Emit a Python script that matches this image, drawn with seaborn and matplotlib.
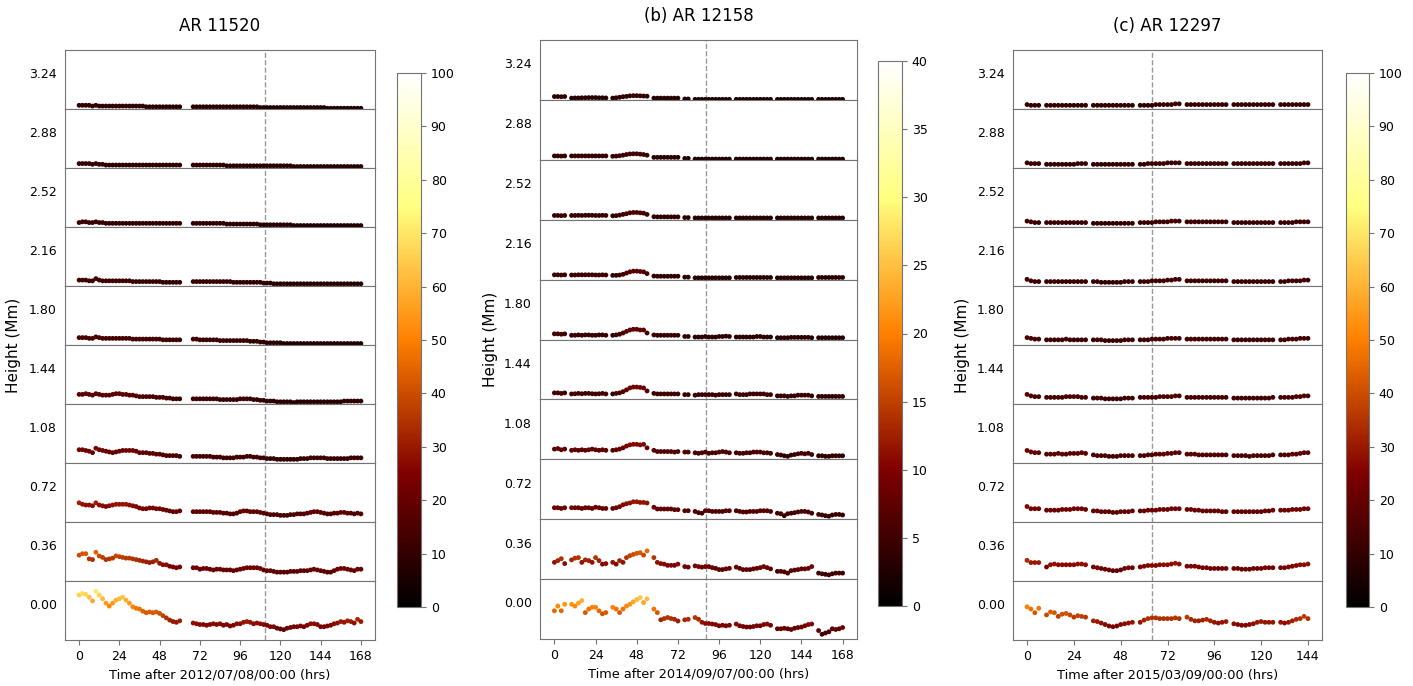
import numpy as np
import pandas as pd
import matplotlib
matplotlib.use("Agg")
import matplotlib.pyplot as plt
from matplotlib.cm import ScalarMappable
from matplotlib.colors import Normalize
import seaborn as sns

# Heights of the ten layers, bottom to top (Mm)
HEIGHTS = ["0.00", "0.36", "0.72", "1.08", "1.44", "1.80", "2.16", "2.52", "2.88", "3.24"]

# Observing windows in hours, sampled every 2 h
CADENCE = 2
WINDOWS_A = [(0, 60), (68, 168)]
WINDOWS_B = [(0, 6), (10, 30), (34, 54), (58, 72), (76, 78), (82, 102), (106, 126), (130, 150), (154, 168)]
WINDOWS_C = [(0, 6), (10, 30), (34, 54), (58, 78), (82, 102), (106, 126), (130, 144)]

# ---------------- AR 11520 ----------------
A_000 = [66, 68, 67, 63, 58, 71, 66, 61, 55, 51, 55, 59, 61, 63, 59, 55, 50, 48, 47, 44,
         42, 43, 42, 43, 41, 38, 35, 32, 30, 29, 31,
         28, 27, 26, 26, 25, 26, 27, 26, 27, 25, 26, 24, 25, 27, 27, 29, 30, 29, 27, 28,
         27, 26, 25, 23, 23, 21, 20, 19, 21, 22, 23, 23, 24, 23, 25, 27, 27, 26, 23, 23,
         24, 25, 27, 28, 30, 29, 31, 30, 28, 33, 30]
A_036 = [40, 42, 42, 35, 34, 44, 39, 37, 34, 35, 36, 39, 38, 37, 36, 36, 35, 34, 33, 32,
         31, 30, 31, 33, 29, 27, 27, 25, 24, 23, 24,
         23, 23, 21, 22, 22, 21, 20, 21, 21, 20, 20, 20, 19, 20, 21, 22, 23, 23, 23, 23,
         22, 20, 19, 19, 18, 17, 17, 17, 17, 18, 18, 18, 19, 19, 19, 20, 21, 20, 19, 18,
         17, 17, 19, 21, 22, 22, 21, 20, 19, 21, 21]
A_072 = [31, 29, 28, 28, 27, 31, 28, 27, 26, 27, 28, 29, 29, 29, 29, 28, 27, 26, 24, 23,
         23, 24, 24, 23, 23, 22, 21, 20, 19, 19, 20,
         19, 19, 19, 19, 19, 19, 18, 18, 18, 17, 17, 16, 16, 17, 19, 20, 20, 19, 19, 19,
         18, 17, 16, 15, 15, 15, 14, 14, 14, 15, 15, 16, 16, 16, 17, 18, 19, 19, 18, 17,
         16, 16, 17, 17, 18, 18, 17, 17, 16, 17, 16]
A_108 = [23, 23, 22, 21, 19, 25, 23, 22, 21, 20, 19, 20, 21, 22, 22, 22, 22, 21, 19, 19,
         19, 18, 18, 17, 17, 16, 15, 15, 15, 15, 14,
         14, 14, 14, 14, 14, 14, 13, 13, 13, 12, 12, 12, 12, 13, 13, 13, 14, 14, 13, 13,
         12, 12, 11, 11, 11, 10, 10, 10, 10, 10, 10, 10, 11, 11, 11, 12, 12, 12, 12, 12,
         11, 11, 11, 11, 11, 11, 11, 12, 12, 12, 12]
A_144 = [18, 18, 19, 18, 17, 19, 18, 17, 17, 17, 18, 19, 19, 18, 18, 17, 17, 16, 15, 15,
         15, 15, 15, 14, 14, 14, 13, 13, 12, 12, 12,
         12, 12, 12, 12, 12, 12, 12, 12, 11, 11, 11, 11, 11, 11, 12, 12, 12, 12, 11, 11,
         10, 10, 9, 9, 9, 8, 8, 8, 8, 8, 7, 8, 8, 8, 8, 8, 8, 8, 8, 8,
         8, 8, 8, 8, 8, 9, 9, 9, 9, 9, 9]
A_180 = [15, 15, 15, 14, 14, 16, 15, 14, 14, 14, 14, 14, 14, 14, 14, 14, 13, 13, 13, 13,
         13, 13, 13, 13, 13, 12, 12, 12, 12, 12, 12,
         13, 13, 12, 12, 12, 12, 12, 12, 11, 11, 11, 11, 11, 11, 11, 11, 11, 10, 10, 10,
         9, 9, 8, 8, 8, 8, 8, 7, 7, 7, 7, 7, 7, 7, 7, 7, 7, 7, 7, 7,
         7, 7, 7, 7, 7, 7, 7, 7, 7, 7, 7]
A_216 = [13, 13, 13, 12, 12, 15, 13, 12, 12, 12, 12, 12, 12, 12, 12, 12, 11, 11, 11, 11,
         11, 11, 11, 11, 11, 10, 10, 10, 10, 10, 10,
         11, 11, 11, 11, 11, 11, 11, 11, 11, 11, 11, 11, 10, 10, 10, 10, 10, 10, 10, 10,
         10, 9, 9, 9, 8, 8, 8, 8, 8, 8, 8, 8, 8, 8, 8, 8, 8, 8, 8, 8,
         8, 8, 8, 8, 8, 8, 8, 8, 8, 8, 8]
A_252 = [11, 12, 12, 11, 11, 12, 11, 11, 10, 10, 10, 10, 10, 10, 10, 10, 10, 10, 10, 10,
         10, 10, 10, 10, 10, 10, 10, 10, 10, 10, 10,
         10, 10, 10, 10, 10, 10, 10, 10, 10, 10, 9, 9, 9, 9, 9, 9, 9, 9, 9, 9,
         8, 8, 8, 8, 8, 8, 8, 8, 8, 8, 7, 7, 7, 7, 7, 7, 7, 7, 7, 7,
         7, 7, 7, 7, 7, 7, 7, 7, 7, 7, 7]
A_288 = [11, 11, 11, 11, 10, 11, 10, 10, 9, 9, 9, 9, 9, 9, 9, 9, 9, 9, 9, 9,
         9, 9, 9, 9, 9, 9, 9, 9, 9, 9, 9,
         9, 9, 9, 9, 9, 9, 9, 9, 9, 9, 8, 8, 8, 8, 8, 8, 8, 8, 8, 8,
         8, 8, 8, 8, 8, 8, 8, 8, 8, 8, 7, 7, 7, 7, 7, 7, 7, 7, 7, 7,
         7, 7, 7, 7, 7, 7, 7, 7, 7, 7, 7]
A_324 = [10, 10, 10, 10, 9, 10, 9, 9, 9, 9, 9, 9, 9, 9, 9, 9, 9, 9, 9, 9,
         8, 8, 8, 8, 8, 8, 8, 8, 8, 8, 8,
         8, 8, 8, 8, 8, 8, 8, 8, 8, 8, 8, 8, 8, 8, 8, 8, 8, 8, 8, 8,
         7, 7, 7, 7, 7, 7, 7, 7, 7, 7, 7, 7, 7, 7, 7, 7, 7, 7, 7, 7,
         6, 6, 6, 6, 6, 6, 6, 6, 6, 6, 6]

# ---------------- AR 12158 ----------------
B_000 = [18.0, 20.7, 18.0, 21.7,
         21.7, 20.7, 22.4, 23.8, 17.0, 19.0, 20.0, 20.0, 18.0, 16.3, 17.0,
         20.0, 19.0, 17.0, 19.0, 20.7, 21.7, 23.1, 24.4, 25.5, 22.7, 24.8,
         19.0, 17.0, 12.9, 13.6, 14.2, 13.6, 13.2, 12.2,
         12.9, 13.2,
         14.2, 13.2, 11.5, 10.8, 10.8, 10.5, 10.2, 9.5, 9.8, 9.5, 9.8,
         10.5, 9.5, 9.1, 8.8, 8.8, 9.1, 9.5, 9.5, 10.2, 10.5, 9.8,
         7.8, 7.8, 8.1, 7.8, 7.4, 8.1, 8.5, 8.8, 9.5, 10.2, 10.5,
         6.8, 4.7, 5.4, 6.1, 7.8, 7.4, 7.8, 8.5]
B_036 = [11.5, 12.5, 13.6, 10.8,
         12.9, 13.9, 14.2, 11.5, 12.9, 12.5, 11.5, 14.2, 12.5, 10.5, 10.8,
         11.5, 10.5, 12.5, 11.5, 14.2, 15.3, 16.0, 16.6, 17.0, 15.6, 18.0,
         14.2, 11.5, 10.8, 10.5, 9.8, 9.8, 9.8, 10.5,
         9.1, 8.8,
         9.5, 9.1, 8.8, 9.1, 9.1, 8.5, 8.1, 7.4, 7.4, 7.8, 8.1,
         8.8, 8.1, 7.4, 7.4, 7.4, 7.8, 8.1, 8.5, 9.1, 8.5, 7.8,
         6.4, 6.4, 6.1, 5.4, 6.8, 7.1, 7.4, 7.8, 7.8, 8.1, 9.1,
         5.4, 5.0, 4.7, 4.4, 5.0, 5.4, 5.4, 5.4]
B_072 = [8.5, 8.5, 8.1, 8.5,
         8.5, 8.5, 8.5, 8.1, 8.5, 8.5, 8.1, 8.8, 8.5, 8.1, 8.1,
         8.1, 8.5, 9.1, 10.2, 10.8, 11.2, 11.9, 11.9, 11.5, 11.5, 11.2,
         8.8, 7.8, 7.8, 7.8, 7.8, 7.8, 7.4, 7.4,
         6.8, 6.8,
         6.4, 5.7, 5.4, 6.8, 6.8, 6.4, 6.4, 6.4, 6.4, 6.8, 6.8,
         6.8, 6.4, 6.1, 6.1, 6.4, 6.4, 6.4, 6.8, 6.8, 6.8, 6.4,
         5.4, 5.1, 4.0, 5.1, 5.4, 5.7, 6.1, 6.4, 6.4, 6.1, 5.4,
         4.7, 4.4, 4.0, 3.7, 4.4, 4.7, 4.7, 4.4]
B_108 = [7.8, 8.1, 7.4, 7.8,
         7.1, 7.4, 7.1, 7.4, 7.1, 7.4, 7.8, 7.4, 7.1, 7.4, 7.1,
         7.1, 7.4, 7.8, 8.5, 9.5, 10.2, 10.5, 10.5, 10.2, 10.5, 8.5,
         7.1, 6.4, 6.4, 6.4, 6.4, 6.4, 6.1, 6.4,
         6.1, 6.1,
         5.7, 5.4, 5.7, 6.1, 5.4, 5.7, 5.7, 6.1, 6.4, 6.1, 5.7,
         5.7, 5.4, 5.4, 5.7, 5.7, 6.1, 6.1, 6.1, 5.7, 5.7, 5.4,
         4.7, 4.4, 4.0, 3.7, 4.4, 4.7, 5.1, 5.4, 5.1, 5.4, 4.7,
         4.0, 4.0, 3.7, 3.7, 4.0, 4.0, 4.0, 4.0]
B_144 = [5.7, 5.7, 5.4, 5.7,
         5.1, 5.2, 5.4, 5.2, 5.4, 5.4, 5.2, 5.1, 5.2, 5.4, 5.1,
         5.1, 5.4, 5.7, 6.4, 7.4, 8.5, 9.0, 9.0, 8.8, 8.5, 6.8,
         5.4, 5.1, 5.1, 5.1, 5.1, 5.1, 5.1, 5.1,
         4.7, 4.7,
         4.4, 4.7, 4.7, 4.7, 4.7, 4.7, 4.4, 4.7, 4.7, 4.7, 4.7,
         5.1, 4.7, 4.7, 4.7, 5.1, 5.1, 5.1, 5.1, 5.1, 4.7, 4.7,
         4.0, 4.0, 4.0, 3.7, 4.0, 4.0, 4.4, 4.4, 4.4, 4.4, 4.0,
         3.7, 3.7, 3.7, 3.7, 3.7, 3.7, 3.7, 3.7]
B_180 = [5.2, 5.2, 5.0, 5.2,
         4.4, 4.4, 4.6, 4.4, 4.6, 4.6, 4.4, 4.4, 4.6, 4.6, 4.4,
         4.4, 4.6, 5.0, 5.7, 6.6, 7.4, 7.8, 7.8, 7.4, 7.4, 5.7,
         4.6, 4.4, 4.4, 4.4, 4.4, 4.4, 4.4, 4.4,
         3.7, 3.7,
         3.4, 3.4, 3.4, 3.7, 3.4, 3.4, 3.4, 3.7, 3.7, 3.9, 3.7,
         3.4, 3.4, 3.4, 3.4, 3.4, 3.4, 3.7, 3.7, 3.4, 3.4, 3.4,
         3.0, 3.0, 3.0, 3.0, 3.2, 3.2, 3.2, 3.2, 3.2, 3.2, 3.0,
         3.0, 3.0, 3.0, 3.0, 3.0, 3.0, 3.0, 3.0]
B_216 = [4.7, 4.7, 4.6, 4.7,
         4.6, 4.6, 4.7, 4.7, 4.7, 4.7, 4.7, 4.6, 4.6, 4.7, 4.6,
         4.4, 4.4, 4.6, 5.0, 5.7, 6.4, 6.8, 6.8, 6.6, 6.4, 5.4,
         4.0, 3.9, 3.9, 3.9, 3.9, 3.9, 3.9, 3.9,
         3.4, 3.4,
         3.0, 3.0, 3.0, 3.0, 3.0, 3.0, 3.0, 3.0, 3.0, 3.0, 3.0,
         3.2, 3.2, 3.2, 3.2, 3.2, 3.2, 3.2, 3.2, 3.2, 3.2, 3.2,
         3.0, 3.0, 3.0, 3.0, 3.0, 3.0, 3.0, 3.0, 3.0, 3.0, 3.0,
         3.2, 3.2, 3.2, 3.2, 3.2, 3.2, 3.2, 3.2]
B_252 = [4.4, 4.4, 4.3, 4.4,
         4.4, 4.4, 4.5, 4.4, 4.5, 4.5, 4.5, 4.4, 4.4, 4.5, 4.4,
         4.2, 4.3, 4.6, 5.0, 5.4, 5.9, 6.1, 6.1, 5.9, 5.7, 5.0,
         3.7, 3.6, 3.6, 3.6, 3.6, 3.6, 3.6, 3.6,
         3.2, 3.2,
         3.0, 3.0, 3.0, 3.0, 3.0, 3.0, 3.0, 3.0, 3.0, 3.0, 3.0,
         3.0, 3.0, 3.0, 3.0, 3.0, 3.0, 3.0, 3.0, 3.0, 3.0, 3.0,
         3.0, 3.0, 3.0, 3.0, 3.0, 3.0, 3.0, 3.0, 3.0, 3.0, 3.0,
         3.0, 3.0, 3.0, 3.0, 3.0, 3.0, 3.0, 3.0]
B_288 = [4.2, 4.2, 4.1, 4.2,
         4.2, 4.2, 4.2, 4.2, 4.2, 4.2, 4.2, 4.2, 4.2, 4.2, 4.2,
         4.0, 4.1, 4.3, 4.6, 5.0, 5.3, 5.4, 5.4, 5.2, 5.0, 4.6,
         3.4, 3.4, 3.4, 3.4, 3.4, 3.4, 3.4, 3.4,
         2.8, 2.8,
         2.4, 2.4, 2.4, 2.4, 2.4, 2.4, 2.4, 2.4, 2.4, 2.4, 2.4,
         2.4, 2.4, 2.4, 2.4, 2.4, 2.4, 2.4, 2.4, 2.4, 2.4, 2.4,
         2.4, 2.4, 2.4, 2.4, 2.4, 2.4, 2.4, 2.4, 2.4, 2.4, 2.4,
         2.4, 2.4, 2.4, 2.4, 2.4, 2.4, 2.4, 2.4]
B_324 = [3.9, 3.9, 3.8, 3.9,
         3.0, 3.1, 3.1, 3.2, 3.2, 3.3, 3.3, 3.3, 3.2, 3.2, 3.1,
         3.0, 3.2, 3.5, 3.8, 4.0, 4.3, 4.4, 4.4, 4.3, 4.2, 4.1,
         3.0, 3.0, 3.0, 3.0, 3.0, 3.0, 3.0, 3.0,
         2.5, 2.5,
         2.3, 2.3, 2.3, 2.3, 2.3, 2.3, 2.3, 2.3, 2.3, 2.3, 2.3,
         2.3, 2.3, 2.3, 2.3, 2.3, 2.3, 2.3, 2.3, 2.3, 2.3, 2.3,
         2.3, 2.3, 2.3, 2.3, 2.3, 2.3, 2.3, 2.3, 2.3, 2.3, 2.3,
         2.3, 2.3, 2.3, 2.3, 2.3, 2.3, 2.3, 2.3]

# ---------------- AR 12297 ----------------
C_000 = [50, 47, 42, 48,
         39, 43, 42, 37, 40, 41, 39, 36, 38, 37, 36,
         31, 30, 28, 26, 24, 23, 24, 26, 27, 28, 29,
         29, 32, 34, 35, 35, 34, 34, 34, 34, 35, 34,
         36, 33, 31, 31, 32, 33, 31, 29, 28, 29, 30,
         27, 26, 25, 25, 26, 27, 29, 30, 29, 29, 29,
         29, 28, 29, 31, 33, 34, 37, 34]
C_036 = [33, 30, 30, 30,
         24, 27, 28, 27, 27, 27, 27, 27, 28, 28, 27,
         24, 23, 22, 21, 20, 19, 19, 20, 22, 23, 23,
         24, 25, 26, 26, 26, 27, 27, 27, 28, 29, 28,
         25, 25, 25, 24, 23, 23, 22, 22, 22, 22, 22,
         22, 22, 21, 21, 21, 22, 22, 22, 23, 23, 23,
         23, 23, 24, 25, 26, 27, 27, 28]
C_072 = [26, 23, 23, 23,
         21, 21, 21, 21, 22, 22, 22, 23, 23, 23, 22,
         20, 20, 19, 19, 19, 18, 18, 19, 19, 19, 20,
         20, 20, 21, 21, 21, 22, 22, 22, 23, 23, 23,
         22, 22, 21, 21, 20, 20, 20, 20, 20, 19, 19,
         19, 19, 19, 19, 19, 19, 19, 19, 20, 20, 21,
         21, 21, 21, 22, 22, 22, 23, 23]
C_108 = [22, 20, 19, 19,
         17, 17, 17, 18, 17, 17, 18, 18, 18, 19, 18,
         16, 15, 15, 15, 14, 14, 14, 15, 15, 15, 15,
         15, 15, 16, 16, 17, 17, 17, 18, 18, 19, 19,
         17, 17, 17, 16, 16, 16, 16, 16, 16, 16, 16,
         15, 15, 15, 15, 14, 15, 15, 15, 15, 15, 16,
         16, 16, 16, 17, 17, 18, 19, 19]
C_144 = [18, 16, 15, 15,
         14, 14, 14, 14, 14, 15, 15, 15, 15, 14, 14,
         13, 13, 13, 12, 12, 12, 12, 12, 13, 13, 13,
         14, 14, 14, 14, 14, 15, 15, 15, 15, 16, 16,
         14, 14, 14, 14, 14, 14, 14, 14, 14, 14, 14,
         13, 13, 13, 13, 13, 13, 13, 13, 13, 13, 14,
         14, 14, 14, 14, 15, 15, 16, 16]
C_180 = [15, 14, 13, 13,
         12, 12, 12, 12, 12, 13, 12, 12, 12, 12, 12,
         12, 12, 12, 11, 11, 11, 11, 11, 12, 12, 12,
         12, 12, 12, 13, 13, 13, 13, 14, 14, 14, 14,
         13, 13, 13, 13, 13, 13, 13, 13, 13, 13, 13,
         12, 12, 12, 12, 12, 12, 12, 12, 12, 12, 12,
         12, 12, 13, 13, 13, 14, 14, 14]
C_216 = [14, 12, 11, 11,
         11, 11, 11, 11, 11, 11, 11, 11, 11, 11, 11,
         11, 11, 10, 10, 10, 10, 10, 10, 11, 11, 11,
         11, 11, 11, 12, 12, 12, 12, 13, 13, 14, 14,
         12, 12, 12, 12, 12, 12, 12, 12, 12, 12, 12,
         11, 11, 11, 11, 11, 11, 11, 11, 11, 11, 11,
         11, 11, 12, 12, 12, 12, 13, 13]
C_252 = [13, 12, 11, 11,
         11, 11, 11, 11, 11, 11, 11, 11, 11, 11, 11,
         10, 10, 10, 10, 10, 10, 10, 10, 10, 10, 10,
         11, 11, 11, 11, 12, 12, 12, 12, 13, 13, 13,
         12, 12, 12, 12, 12, 12, 12, 12, 12, 12, 12,
         11, 11, 11, 11, 11, 11, 11, 11, 11, 11, 11,
         11, 11, 11, 11, 12, 12, 12, 12]
C_288 = [12, 11, 11, 11,
         10, 10, 10, 10, 10, 10, 10, 10, 11, 11, 11,
         10, 10, 10, 10, 10, 10, 10, 10, 10, 10, 10,
         10, 10, 11, 11, 11, 11, 11, 12, 12, 12, 12,
         11, 11, 11, 11, 11, 11, 11, 11, 11, 11, 11,
         11, 11, 11, 11, 11, 11, 11, 11, 11, 11, 11,
         11, 11, 11, 11, 11, 11, 12, 12]
C_324 = [11, 10, 10, 10,
         10, 10, 10, 10, 10, 10, 10, 10, 10, 10, 10,
         10, 10, 10, 10, 10, 10, 10, 10, 10, 10, 10,
         10, 10, 10, 10, 11, 11, 11, 11, 11, 12, 12,
         11, 11, 11, 11, 11, 11, 11, 11, 11, 11, 11,
         11, 11, 11, 11, 11, 11, 11, 11, 11, 11, 11,
         11, 11, 11, 11, 11, 11, 11, 11]

ROWS_A = [A_000, A_036, A_072, A_108, A_144, A_180, A_216, A_252, A_288, A_324]
ROWS_B = [B_000, B_036, B_072, B_108, B_144, B_180, B_216, B_252, B_288, B_324]
ROWS_C = [C_000, C_036, C_072, C_108, C_144, C_180, C_216, C_252, C_288, C_324]


def sample_hours(windows):
    return np.concatenate([np.arange(a, b + 1, CADENCE) for a, b in windows])


def long_table(windows, rows):
    t = sample_hours(windows)
    frames = []
    for h, vals in zip(HEIGHTS, rows):
        if len(vals) != len(t):
            raise ValueError(f"layer {h}: {len(vals)} values for {len(t)} times")
        frames.append(pd.DataFrame({"time": t, "value": vals, "height": h}))
    return pd.concat(frames, ignore_index=True)


PANELS = [
    dict(table=long_table(WINDOWS_A, ROWS_A), title="AR 11520",
         xlabel="Time after 2012/07/08/00:00 (hrs)", xticks=[0, 24, 48, 72, 96, 120, 144, 168],
         vmax=100, cticks=list(range(0, 101, 10)), ylim=(5, 85), mark=110.7,
         frame=(65, 50, 375, 640), cbar=(397, 73, 421, 607), ylab_x=14),
    dict(table=long_table(WINDOWS_B, ROWS_B), title="(b) AR 12158",
         xlabel="Time after 2014/09/07/00:00 (hrs)", xticks=[0, 24, 48, 72, 96, 120, 144, 168],
         vmax=40, cticks=list(range(0, 41, 5)), ylim=(2, 36), mark=88.4,
         frame=(540, 40, 857, 639), cbar=(878, 61, 902, 606), ylab_x=490),
    dict(table=long_table(WINDOWS_C, ROWS_C), title="(c) AR 12297",
         xlabel="Time after 2015/03/09/00:00 (hrs)", xticks=[0, 24, 48, 72, 96, 120, 144],
         vmax=100, cticks=list(range(0, 101, 10)), ylim=(5, 85), mark=64.3,
         frame=(1013, 50, 1322, 640), cbar=(1346, 73, 1369, 607), ylab_x=963),
]

W, H = 1413, 686
fig = plt.figure(figsize=(W / 100, H / 100), dpi=100)
EDGE = "0.45"

for p in PANELS:
    l, t, r, b = p["frame"]
    gs = fig.add_gridspec(10, 1, left=l / W, right=r / W, top=1 - t / H, bottom=1 - b / H, hspace=0)
    axes = []
    for i in range(10):
        axes.append(fig.add_subplot(gs[i], sharex=axes[0] if axes else None))
    norm = Normalize(0, p["vmax"])
    lo, hi = p["ylim"]
    for i, ax in enumerate(axes):
        h = HEIGHTS[9 - i]
        sub = p["table"][p["table"]["height"] == h]
        ax.axvline(p["mark"], color="0.6", ls="--", lw=1, zorder=0)
        sns.scatterplot(data=sub, x="time", y="value", hue="value", palette="afmhot",
                        hue_norm=norm, s=12, linewidth=0, legend=False, ax=ax,
                        clip_on=False, zorder=3)
        ax.set_ylim(lo, hi)
        ax.set_yticks([lo + 0.61 * (hi - lo)])
        ax.set_yticklabels([h])
        ax.set_xlabel("")
        ax.set_ylabel("")
        ax.tick_params(axis="y", length=0, pad=6, labelsize=9)
        for sp in ax.spines.values():
            sp.set_color(EDGE)
        if i < 9:
            ax.tick_params(axis="x", bottom=False, labelbottom=False)
    bottom_ax = axes[-1]
    bottom_ax.set_xticks(p["xticks"])
    bottom_ax.tick_params(axis="x", labelsize=9, color=EDGE)
    bottom_ax.set_xlabel(p["xlabel"], fontsize=9.3, labelpad=4)
    axes[0].set_title(p["title"], fontsize=12, pad=14)
    fig.text(p["ylab_x"] / W, 1 - (t + b) / 2 / H, "Height (Mm)", rotation=90,
             ha="center", va="center", fontsize=11)

    cl, ct, cr, cb_ = p["cbar"]
    cax = fig.add_axes([cl / W, 1 - cb_ / H, (cr - cl) / W, (cb_ - ct) / H])
    cbar = fig.colorbar(ScalarMappable(norm=norm, cmap="afmhot"), cax=cax, ticks=p["cticks"])
    cbar.outline.set_edgecolor(EDGE)
    cax.tick_params(labelsize=9, color=EDGE)

fig.savefig("out.png", dpi=100)
